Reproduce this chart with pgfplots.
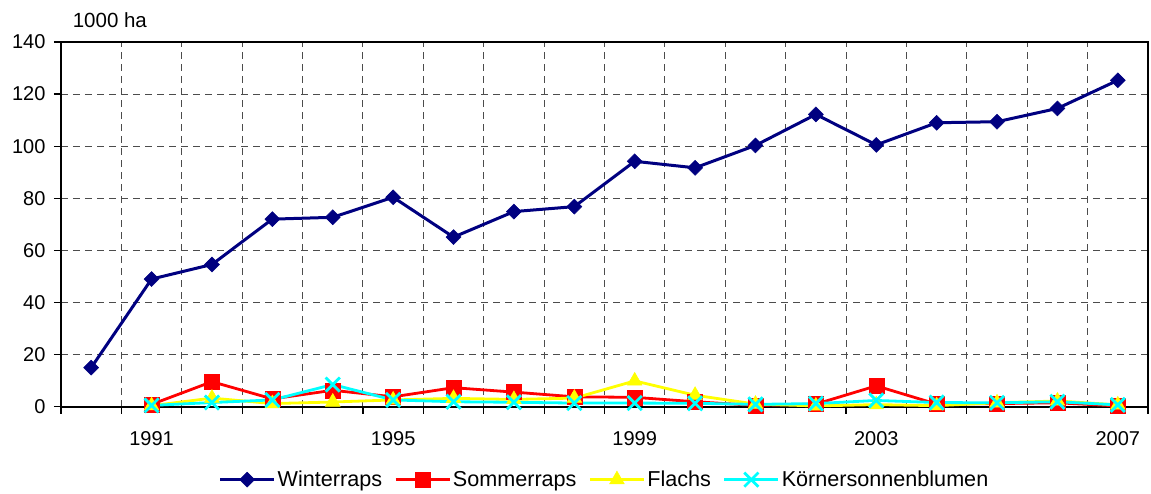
\documentclass[border=0pt]{standalone}
\usepackage{pgfplots}
\pgfplotsset{compat=1.18}
\usepackage{fontspec}
\setmainfont{Liberation Sans}
\definecolor{navyc}{RGB}{0,0,128}
\definecolor{cyanc}{RGB}{0,255,255}
\definecolor{yelc}{RGB}{255,255,0}
\definecolor{redc}{RGB}{255,0,0}
\begin{document}
\begin{tikzpicture}
\begin{axis}[
  scale only axis,
  width=1087pt, height=364.7pt,
  xmin=-0.5, xmax=17.5,
  ymin=0, ymax=140,
  ytick={0,20,...,140},
  xtick={-0.5,0.5,...,17.5},
  xticklabels={},
  extra x ticks={1,5,9,13,17},
  extra x tick labels={1991,1995,1999,2003,2007},
  extra x tick style={major tick length=0pt, grid=none, xticklabel style={yshift=-21pt}},
  yticklabel style={xshift=-5pt},
  grid=major,
  major grid style={dash pattern=on 7pt off 5pt, black!70, line width=0.9pt},
  axis line style={line width=2pt},
  tick style={black, line width=1.2pt},
  major tick length=7pt,
  tick align=outside,
  tick pos=left,
  /pgf/number format/assume math mode=true,
  ticklabel style={font=\fontsize{20}{24}\selectfont},
  clip=false,
  legend style={at={(0.5,-0.2)}, anchor=center, draw=none, legend columns=-1,
    font=\fontsize{21.6}{26}\selectfont,
    /tikz/every even column/.append style={column sep=10pt}},
  legend image code/.code={\draw[mark repeat=2,mark phase=2] plot coordinates {(0pt,0pt) (27pt,0pt) (54pt,0pt)};},
]
\addplot[navyc, line width=3pt, mark=square*, mark size=5.3pt, mark options={rotate=45, solid, fill=navyc, draw=navyc, line width=0.5pt}] coordinates {
(0,15) (1,49) (2,54.6) (3,72) (4,72.7) (5,80.4) (6,65.1) (7,74.9) (8,76.8) (9,94.2) (10,91.7) (11,100.3) (12,112.2) (13,100.5) (14,109) (15,109.4) (16,114.5) (17,125.3)};
\addlegendentry{Winterraps}
\addplot[redc, line width=2.8pt, mark=square*, mark size=7.5pt, mark options={solid, fill=redc, draw=redc, line width=0.5pt}] coordinates {
(1,0.9) (2,9.6) (3,3.0) (4,6.3) (5,3.8) (6,7.3) (7,5.6) (8,3.8) (9,3.6) (10,1.9) (11,0.5) (12,1.0) (13,8.0) (14,1.0) (15,1.2) (16,1.5) (17,0.3)};
\addlegendentry{Sommerraps}
\addplot[yelc, line width=2.8pt, mark=triangle*, mark size=8.5pt, mark options={solid, fill=yelc, draw=yelc, line width=0.5pt}] coordinates {
(1,0.4) (2,3.3) (3,1.2) (4,1.8) (5,2.6) (6,3.2) (7,2.8) (8,3.3) (9,9.9) (10,4.4) (11,1.0) (12,0.3) (13,0.8) (14,0.4) (15,1.5) (16,2.2) (17,0.7)};
\addlegendentry{Flachs}
\addplot[cyanc, line width=2.8pt, mark=x, mark size=10pt, mark options={solid, draw=cyanc, line width=2.8pt}] coordinates {
(1,0.5) (2,1.6) (3,2.6) (4,8.5) (5,2.6) (6,1.9) (7,1.7) (8,1.4) (9,1.4) (10,1.3) (11,0.9) (12,1.2) (13,2.4) (14,1.6) (15,1.5) (16,1.9) (17,0.7)};
\addlegendentry{Körnersonnenblumen}
\node[anchor=base west, font=\fontsize{20.5}{24}\selectfont, inner sep=0pt] at (rel axis cs:0.0107,1.0384) {1000 ha};
\end{axis}
\pgfresetboundingbox
\path[use as bounding box] ([shift={(-61pt,-86.3pt)}]current axis.south west) rectangle ([shift={(3pt,42pt)}]current axis.north east);
\end{tikzpicture}
\end{document}
